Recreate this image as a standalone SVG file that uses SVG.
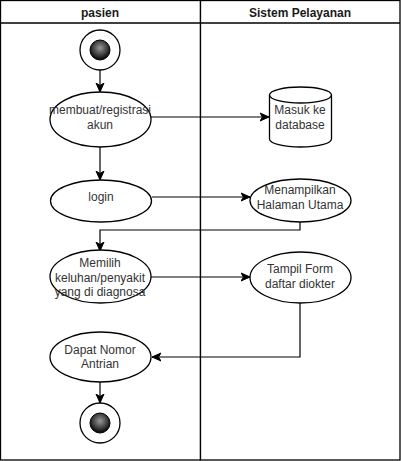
<svg xmlns="http://www.w3.org/2000/svg" width="401" height="461" viewBox="0 0 401 461">
<style>
  .lane{fill:#fff;stroke:#000;stroke-width:1.3}
  .hdr{font-family:"Liberation Sans",Arial,sans-serif;font-size:12px;font-weight:bold;fill:#1a1a1a;text-anchor:middle}
  .node{fill:#fff;stroke:#000;stroke-width:1.3}
  .lbl{font-family:"Liberation Sans",Arial,sans-serif;font-size:12px;fill:#333;text-anchor:middle}
  .edge{fill:none;stroke:#000;stroke-width:1.2}
</style>
<defs>
  <marker id="arr" markerUnits="userSpaceOnUse" markerWidth="10" markerHeight="10" viewBox="0 0 10 10" refX="9" refY="5" orient="auto">
    <path d="M0,1 L9,5 L0,9 L2.5,5 z" fill="#000" stroke="#000" stroke-width="1"/>
  </marker>
  <radialGradient id="g" cx="0.5" cy="0.4" r="0.6">
    <stop offset="0" stop-color="#9a9a9a"/>
    <stop offset="1" stop-color="#000"/>
  </radialGradient>
</defs>
<g id="lanes">
  <rect class="lane" x="0.5" y="0.5" width="200" height="459.5"/>
  <rect class="lane" x="200.5" y="0.5" width="199.5" height="459.5"/>
  <line x1="0.5" y1="23" x2="400" y2="23" stroke="#000" stroke-width="1.3"/>
  <text class="hdr" x="100" y="17">pasien</text>
  <text class="hdr" x="300" y="17">Sistem Pelayanan</text>
</g>
<g id="edges">
  <path class="edge" d="M100,70 L100,92" marker-end="url(#arr)"/>
  <path class="edge" d="M151,117 L269,117" marker-end="url(#arr)"/>
  <path class="edge" d="M100,147 L100,180" marker-end="url(#arr)"/>
  <path class="edge" d="M152,197 L250,197" marker-end="url(#arr)"/>
  <path class="edge" d="M300,222 L300,230 L100,230 L100,251" marker-end="url(#arr)"/>
  <path class="edge" d="M151,277 L250,277" marker-end="url(#arr)"/>
  <path class="edge" d="M300,303 L300,357 L152,357" marker-end="url(#arr)"/>
  <path class="edge" d="M100,382 L100,403" marker-end="url(#arr)"/>
</g>
<g id="start">
  <circle class="node" cx="100" cy="50" r="20"/>
  <circle cx="100" cy="50" r="10" fill="url(#g)" stroke="#000" stroke-width="1"/>
</g>
<g id="registrasi">
  <ellipse class="node" cx="100.5" cy="119.5" rx="50.5" ry="27.5"/>
  <text class="lbl" x="100" y="114">membuat/registrasi</text>
  <text class="lbl" x="100" y="129">akun</text>
</g>
<g id="database">
  <path class="node" d="M269.5,95 A31,8 0 0 1 331.5,95 L331.5,139 A31,8 0 0 1 269.5,139 Z"/>
  <path fill="none" stroke="#000" stroke-width="1.3" d="M269.5,95 A31,8 0 0 0 331.5,95"/>
  <text class="lbl" x="300" y="114">Masuk ke</text>
  <text class="lbl" x="300" y="129">database</text>
</g>
<g id="login">
  <ellipse class="node" cx="101" cy="201" rx="50.5" ry="21"/>
  <text class="lbl" x="101" y="201">login</text>
</g>
<g id="halaman">
  <ellipse class="node" cx="300.5" cy="200.5" rx="50.5" ry="21.5"/>
  <text class="lbl" x="300" y="194">Menampilkan</text>
  <text class="lbl" x="300" y="209">Halaman Utama</text>
</g>
<g id="memilih">
  <ellipse class="node" cx="100.5" cy="276.5" rx="50.5" ry="26.5"/>
  <text class="lbl" x="100" y="267">Memilih</text>
  <text class="lbl" x="100" y="281.5">keluhan/penyakit</text>
  <text class="lbl" x="100" y="296">yang di diagnosa</text>
</g>
<g id="tampil">
  <ellipse class="node" cx="300.5" cy="277.5" rx="50.5" ry="25.5"/>
  <text class="lbl" x="300" y="273">Tampil Form</text>
  <text class="lbl" x="300" y="288">daftar diokter</text>
</g>
<g id="nomor">
  <ellipse class="node" cx="100.5" cy="357" rx="50.5" ry="25"/>
  <text class="lbl" x="100" y="354">Dapat Nomor</text>
  <text class="lbl" x="100" y="368">Antrian</text>
</g>
<g id="end">
  <circle class="node" cx="100" cy="423" r="20"/>
  <circle cx="100" cy="423" r="10" fill="url(#g)" stroke="#000" stroke-width="1"/>
</g>
</svg>
